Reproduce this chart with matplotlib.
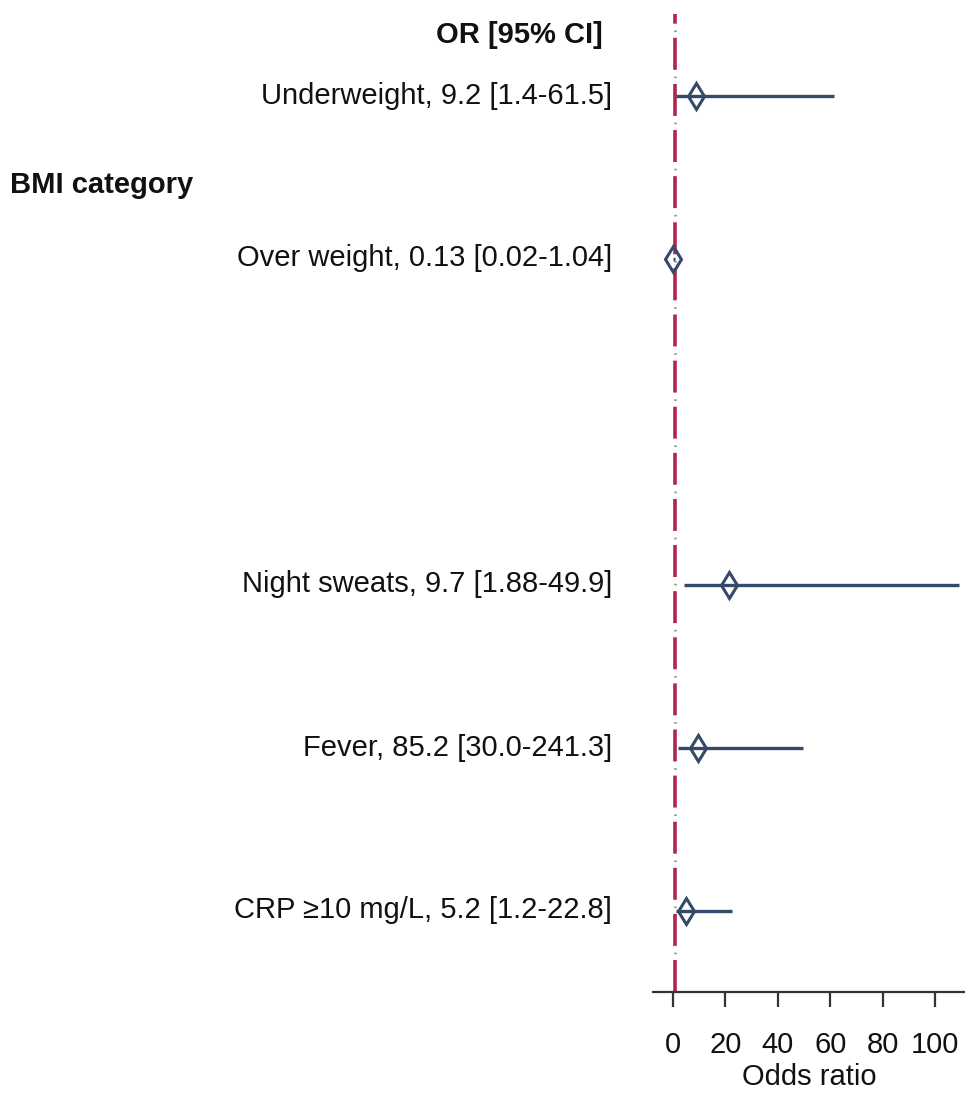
import matplotlib
matplotlib.use("Agg")
import matplotlib.pyplot as plt
import matplotlib.transforms as mtransforms
from matplotlib import font_manager

# Data (plotted points, labels as printed)
labels = [
    "Underweight, 9.2 [1.4-61.5]",
    "Over weight, 0.13 [0.02-1.04]",
    "Night sweats, 9.7 [1.88-49.9]",
    "Fever, 85.2 [30.0-241.3]",
    "CRP \u226510 mg/L, 5.2 [1.2-22.8]",
]
rows = [6, 5, 3, 2, 1]
or_vals = [9.0, 0.13, 21.6, 9.5, 5.1]
ci_low = [1.4, 0.02, 4.3, 1.9, 1.2]
ci_high = [61.5, 1.04, 109.0, 49.8, 22.6]
xticks = [0, 20, 40, 60, 80, 100]

names = {f.name for f in font_manager.fontManager.ttflist}
if "Liberation Sans Narrow" in names:
    fam = ["Liberation Sans Narrow", "DejaVu Sans"]
    fs = 25.5
else:
    fam = ["Liberation Sans", "DejaVu Sans"]
    fs = 21
plt.rcParams["font.family"] = fam
plt.rcParams["lines.scale_dashes"] = False

line_col = "#35496b"
ref_col = "#b02452"

fig = plt.figure(figsize=(9.65, 10.97), dpi=100)
ax = fig.add_axes([653 / 965, 105 / 1097, 312 / 965, 978 / 1097])

# reference line at OR = 1: red dashes with small grey dots in the gaps
ax.axvline(1, color=ref_col, lw=2.6, linestyle=(0, (23, 10.2)), zorder=1)
ax.axvline(1, color="#9a9a9a", lw=2.0, linestyle=(-27.5, (1.2, 32)), zorder=1)

for r, o, lo, hi in zip(rows, or_vals, ci_low, ci_high):
    ax.plot([lo, hi], [r, r], color=line_col, lw=2.4, solid_capstyle="butt", zorder=2)
    ax.plot(o, r, marker="d", ms=13, mfc="none", mec=line_col, mew=2.2, zorder=3)

ax.set_xlim(-7.5, 111.3)
ax.set_ylim(0.5, 6.5)
ax.set_yticks([])
ax.set_xticks(xticks)
for s in ["top", "right", "left"]:
    ax.spines[s].set_visible(False)
ax.spines["bottom"].set_color("#333333")
ax.spines["bottom"].set_linewidth(1.6)
ax.tick_params(axis="x", direction="out", length=11, width=1.6, color="#333333",
               labelsize=fs, pad=17, labelcolor="#111111")
ax.set_xlabel("Odds ratio", fontsize=fs, labelpad=3, color="#111111")

trans = mtransforms.blended_transform_factory(fig.transFigure, ax.transData)
for r, lab in zip(rows, labels):
    ax.text(612 / 965, r, lab, transform=trans, ha="right", va="center",
            fontsize=fs, color="#111111")
ax.text(603 / 965, 6.37, "OR [95% CI]", transform=trans, ha="right", va="center",
        fontsize=fs, fontweight="bold", color="#111111")
ax.text(10 / 965, 5.45, "BMI category", transform=trans, ha="left", va="center",
        fontsize=fs, fontweight="bold", color="#111111")

fig.savefig("out.png", dpi=100)
